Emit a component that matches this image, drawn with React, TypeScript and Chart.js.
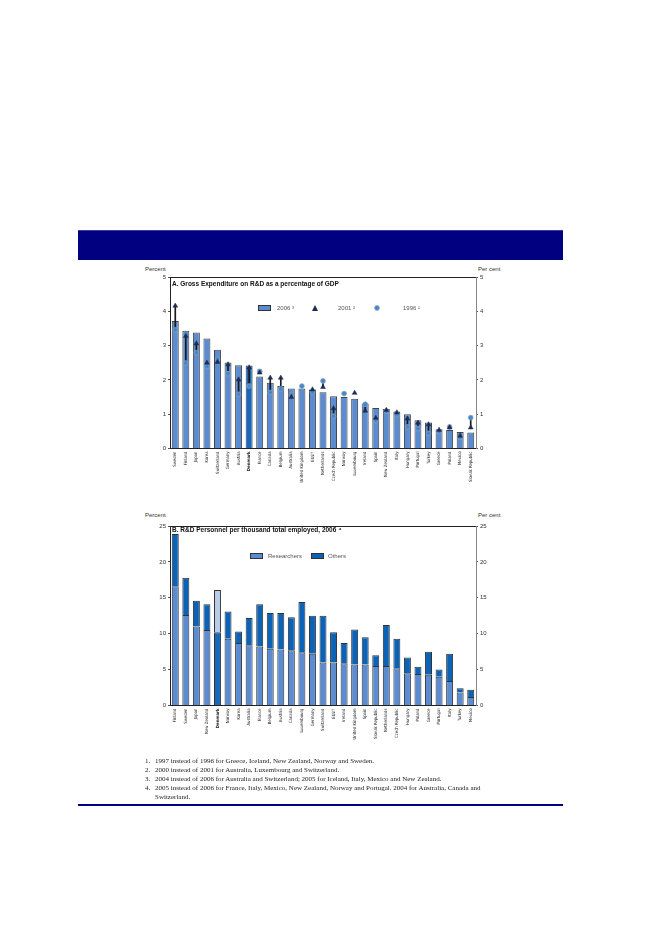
import React, { useEffect, useRef } from "react";
import { Chart, registerables } from "chart.js";
Chart.register(...registerables);

// ---------- Panel A data ----------
const countriesA = ["Sweden","Finland","Japan","Korea","Switzerland","Germany","Austria","Denmark","France","Canada","Belgium","Australia","United Kingdom","EU27","Netherlands","Czech Republic","Norway","Luxembourg","Ireland","Spain","New Zealand","Italy","Hungary","Portugal","Turkey","Greece","Poland","Mexico","Slovak Republic"];
const gerd2006 = [3.72,3.43,3.38,3.21,2.88,2.51,2.43,2.42,2.10,1.92,1.82,1.75,1.75,1.72,1.64,1.52,1.50,1.45,1.31,1.18,1.15,1.08,1.00,0.82,0.76,0.56,0.54,0.48,0.47];
const gerd2001 = [4.16,3.28,3.06,2.50,2.52,2.45,2.01,2.36,2.21,2.06,2.06,1.50,null,1.72,1.79,1.17,null,1.62,1.10,0.89,1.12,1.05,0.87,0.75,0.70,0.54,0.61,0.37,0.61];
const gerd1996 = [3.46,2.49,2.79,2.39,2.61,2.18,1.58,1.82,2.25,1.63,1.74,1.56,1.82,1.65,1.97,0.94,1.60,null,1.29,0.82,1.09,0.98,0.63,0.58,0.44,0.49,0.63,0.33,0.90];
const ticksA = [0,1,2,3,4,5];

// ---------- Panel B data ----------
const countriesB = ["Finland","Sweden","Japan","New Zealand","Denmark","Norway","Korea","Australia","France","Belgium","Austria","Canada","Luxembourg","Germany","Switzerland","EU27","Ireland","United Kingdom","Spain","Slovak Republic","Netherlands","Czech Republic","Hungary","Poland","Greece","Portugal","Italy","Turkey","Mexico"];
const researchers = [16.6,12.6,11.0,10.5,10.2,9.3,8.7,8.4,8.2,7.9,7.8,7.7,7.4,7.2,6.0,6.0,5.9,5.7,5.7,5.5,5.5,5.2,4.5,4.4,4.3,4.0,3.4,1.8,1.2];
const others = [7.3,5.2,3.6,3.6,5.9,3.8,1.6,3.8,5.9,5.0,5.1,4.6,7.0,5.3,6.5,4.2,2.8,4.9,3.8,1.5,5.7,4.1,2.2,1.0,3.2,1.0,3.8,0.6,1.0];
const ticksB = [0,5,10,15,20,25];

const SANS = "'Liberation Sans', Arial, sans-serif";
const NARROW = "'Liberation Sans Narrow', 'DejaVu Sans Condensed', 'Liberation Sans', Arial, sans-serif";
const SERIF = "'Liberation Serif', 'Times New Roman', serif";

const BAR = "#5b8bd0";
const BAR_DK = "#1668bd";
const OTHERS = "#0b63b8";
const LIGHT = "#b8cbe8";

const framePlugin = {
  id: "frameTop",
  afterDraw(chart: any) {
    const { ctx, chartArea } = chart;
    ctx.save();
    ctx.strokeStyle = "#222";
    ctx.lineWidth = 1;
    ctx.beginPath();
    ctx.moveTo(chartArea.left, chartArea.top + 0.5);
    ctx.lineTo(chartArea.right, chartArea.top + 0.5);
    ctx.stroke();
    ctx.restore();
  },
};

function yAxes(max: number, step: number, width: number, rightWidth: number) {
  const base = (pos: "left" | "right", w: number, borderColor: string) => ({
    position: pos,
    min: 0,
    max,
    afterFit: (s: any) => { s.width = w; },
    ticks: { stepSize: step, color: "#333", padding: 2, font: { size: 6, family: SANS } },
    grid: { drawOnChartArea: false, drawTicks: true, tickLength: 2, color: "#555" },
    border: { display: true, color: borderColor, width: 1 },
  });
  return { y: base("left", width, "#222"), y2: base("right", rightWidth, "#888") };
}

function xAxis(labels: string[], height: number, stacked: boolean) {
  return {
    stacked,
    afterFit: (s: any) => { s.height = height; },
    grid: { display: false, drawTicks: false },
    border: { display: true, color: "#222", width: 1 },
    ticks: {
      autoSkip: false,
      maxRotation: 90,
      minRotation: 90,
      padding: 3,
      color: "#222",
      font: (c: any) => ({
        size: 4.3,
        family: NARROW,
        weight: labels[c.index] === "Denmark" ? "bold" : "normal",
      }),
    },
  };
}

function PanelA() {
  const ref = useRef<HTMLCanvasElement>(null);
  useEffect(() => {
    const lines = gerd1996.map((v, i) =>
      v != null && gerd2001[i] != null ? [Math.min(v, gerd2001[i] as number), Math.max(v, gerd2001[i] as number)] : null
    );
    const chart = new Chart(ref.current as HTMLCanvasElement, {
      type: "bar",
      data: {
        labels: countriesA,
        datasets: [
          {
            type: "bar",
            label: "2006",
            data: gerd2006,
            backgroundColor: countriesA.map((c) => (c === "Denmark" ? BAR_DK : BAR)),
            borderColor: "#444",
            borderWidth: 1,
            barPercentage: 0.66,
            categoryPercentage: 1,
            grouped: false,
            order: 4,
          } as any,
          {
            type: "bar",
            label: "range",
            data: lines as any,
            backgroundColor: "#1a1a1a",
            barThickness: 1,
            grouped: false,
            order: 3,
          } as any,
          {
            type: "line",
            label: "1996",
            data: gerd1996,
            showLine: false,
            pointStyle: "circle",
            pointRadius: 2.4,
            pointBackgroundColor: "#3f88d2",
            pointBorderColor: "#8b9fb8",
            pointBorderWidth: 0.8,
            order: 2,
          } as any,
          {
            type: "line",
            label: "2001",
            data: gerd2001,
            showLine: false,
            pointStyle: "triangle",
            pointRadius: 2.8,
            pointBackgroundColor: "#1e2d52",
            pointBorderColor: "#1e2d52",
            pointBorderWidth: 0.5,
            order: 1,
          } as any,
        ],
      },
      options: {
        responsive: false,
        animation: false,
        devicePixelRatio: 1,
        layout: { padding: { top: 15, left: 0, right: 0, bottom: 0 } },
        plugins: { legend: { display: false }, tooltip: { enabled: false } },
        scales: {
          x: xAxis(countriesA, 41.5, false),
          ...yAxes(5, 1, 40, 34),
        } as any,
      },
      plugins: [framePlugin],
    });
    return () => chart.destroy();
  }, []);
  return <canvas ref={ref} width={380} height={228} style={{ position: "absolute", left: 130, top: 262, width: 380, height: 228 }} />;
}

function PanelB() {
  const ref = useRef<HTMLCanvasElement>(null);
  useEffect(() => {
    const chart = new Chart(ref.current as HTMLCanvasElement, {
      type: "bar",
      data: {
        labels: countriesB,
        datasets: [
          {
            label: "Researchers",
            data: researchers,
            backgroundColor: countriesB.map((c) => (c === "Denmark" ? BAR_DK : BAR)),
            borderColor: "#333",
            borderWidth: 1,
            barPercentage: 0.66,
            categoryPercentage: 1,
          },
          {
            label: "Others",
            data: others,
            backgroundColor: countriesB.map((c) => (c === "Denmark" ? LIGHT : OTHERS)),
            borderColor: "#333",
            borderWidth: 1,
            barPercentage: 0.66,
            categoryPercentage: 1,
          },
        ],
      },
      options: {
        responsive: false,
        animation: false,
        devicePixelRatio: 1,
        layout: { padding: { top: 8, left: 0, right: 0, bottom: 0 } },
        plugins: { legend: { display: false }, tooltip: { enabled: false } },
        scales: {
          x: xAxis(countriesB, 54.5, true),
          ...(() => {
            const a: any = yAxes(25, 5, 40, 34);
            a.y.stacked = true;
            return a;
          })(),
        } as any,
      },
      plugins: [framePlugin],
    });
    return () => chart.destroy();
  }, []);
  return <canvas ref={ref} width={380} height={242} style={{ position: "absolute", left: 130, top: 518, width: 380, height: 242 }} />;
}

const txt = (x: number, y: number, s: React.ReactNode, extra: React.CSSProperties = {}) => (
  <div
    style={{
      position: "absolute",
      left: x,
      top: y,
      fontFamily: SANS,
      fontSize: 6,
      lineHeight: "8px",
      color: "#333",
      whiteSpace: "nowrap",
      ...extra,
    }}
  >
    {s}
  </div>
);

const box = (x: number, y: number, color: string) => (
  <div style={{ position: "absolute", left: x, top: y, width: 13, height: 6, background: color, border: "1px solid #333", boxSizing: "border-box" }} />
);

const footnotes = [
  "1997 instead of 1996 for Greece, Iceland, New Zealand, Norway and Sweden.",
  "2000 instead of 2001 for Australia, Luxembourg and Switzerland.",
  "2004 instead of 2006 for Australia and Switzerland; 2005 for Iceland, Italy, Mexico and New Zealand.",
  "2005 instead of 2006 for France, Italy, Mexico, New Zealand, Norway and Portugal. 2004 for Australia, Canada and",
];

export default function App() {
  return (
    <div style={{ position: "absolute", left: 0, top: 0, width: 661, height: 933, background: "#fff" }}>
      <div style={{ position: "absolute", left: 78, top: 230, width: 485, height: 30, background: "#000080", borderTop: "1px solid #3a3aa0", boxSizing: "border-box" }} />

      {/* Panel A */}
      {txt(145, 265, "Percent")}
      {txt(478, 265, "Per cent")}
      <PanelA />
      {txt(172, 280, "A. Gross Expenditure on R&D as a percentage of GDP", { fontWeight: "bold", fontSize: 6.5, color: "#111" })}
      {box(258, 305, BAR)}
      {txt(277, 304, "2006 ³", { color: "#555" })}
      <svg style={{ position: "absolute", left: 312, top: 305 }} width={6} height={6}>
        <polygon points="3,0 6,6 0,6" fill="#1e2d52" />
      </svg>
      {txt(338, 304, "2001 ²", { color: "#555" })}
      <svg style={{ position: "absolute", left: 374, top: 305 }} width={6} height={6}>
        <circle cx={3} cy={3} r={2.4} fill="#3f88d2" stroke="#8b9fb8" strokeWidth={0.8} />
      </svg>
      {txt(403, 304, "1996 ¹", { color: "#555" })}

      {/* Panel B */}
      {txt(145, 511, "Percent")}
      {txt(478, 511, "Per cent")}
      <PanelB />
      {txt(172, 526, "B. R&D Personnel per thousand total employed, 2006 ⁴", { fontWeight: "bold", fontSize: 6.5, color: "#111" })}
      {box(250, 553, BAR)}
      {txt(268, 552, "Researchers", { color: "#555" })}
      {box(311, 553, OTHERS)}
      {txt(328, 552, "Others", { color: "#555" })}

      {/* Footnotes */}
      {footnotes.map((f, i) => (
        <React.Fragment key={i}>
          {txt(145, 757 + i * 9, `${i + 1}.`, { fontFamily: SERIF, fontSize: 7, color: "#222" })}
          {txt(155, 757 + i * 9, f, { fontFamily: SERIF, fontSize: 7, color: "#222" })}
        </React.Fragment>
      ))}
      {txt(155, 757 + 4 * 9, "Switzerland.", { fontFamily: SERIF, fontSize: 7, color: "#222" })}
      <div style={{ position: "absolute", left: 78, top: 804, width: 485, height: 2, background: "#000080" }} />
    </div>
  );
}
